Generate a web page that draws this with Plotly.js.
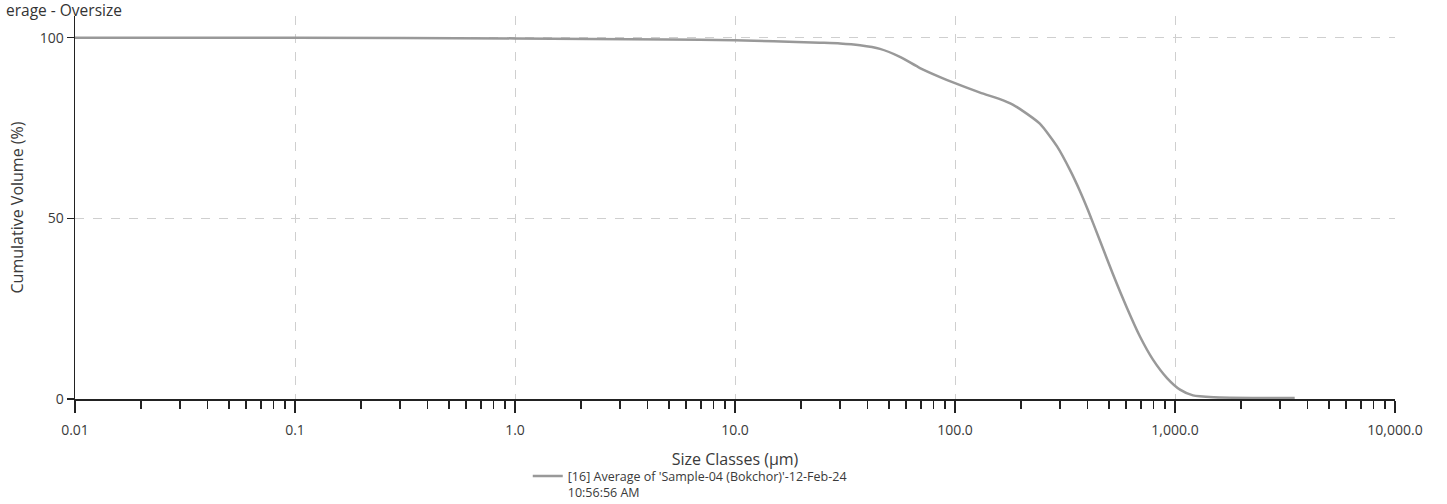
<!DOCTYPE html>
<html>
<head>
<meta charset="utf-8">
<script src="https://cdn.plot.ly/plotly-3.0.1.min.js"></script>
<style>html,body{margin:0;padding:0;background:#fff;}#chart{width:1447px;height:504px;}</style>
</head>
<body>
<div id="chart"></div>
<script>
// Size classes (µm) and cumulative volume (%)
var sizeClasses = [0.01, 0.1, 1, 5, 10, 15, 24.3, 30, 37, 45.6, 56.2, 69.3, 85.5, 100, 130, 160, 183, 197, 243, 291, 333, 370, 402, 456, 522, 605, 693, 794, 920, 1054, 1207, 1500, 2500, 3500];
var cumulativeVolume = [100, 100, 99.8, 99.5, 99.3, 99, 98.6, 98.4, 97.9, 96.9, 94.7, 91.6, 89.1, 87.4, 84.8, 83.0, 81.5, 80.3, 76.2, 69.9, 63.4, 57.5, 52.3, 43.8, 34.6, 25.2, 17.3, 10.9, 5.8, 2.6, 1.0, 0.5, 0.3, 0.3];
var seriesName = "[16] Average of 'Sample-04 (Bokchor)'-12-Feb-24<br>10:56:56 AM";
var xTickVals = [0.01, 0.1, 1, 10, 100, 1000, 10000];
var xTickText = ['0.01', '0.1', '1.0', '10.0', '100.0', '1,000.0', '10,000.0'];
var yTickVals = [0, 50, 100];
var chartTitle = 'erage - Oversize';
var xTitle = 'Size Classes (µm)';
var yTitle = 'Cumulative Volume (%)';

var minorVals = [];
for (var d = 0; d < xTickVals.length - 1; d++) {
  for (var k = 2; k <= 9; k++) minorVals.push(k * xTickVals[d]);
}

var trace = {
  x: sizeClasses,
  y: cumulativeVolume,
  type: 'scatter',
  mode: 'lines',
  name: seriesName,
  line: {color: '#999999', width: 2.5, shape: 'spline', smoothing: 0.6},
  showlegend: true
};

var fam = 'Open Sans, Noto Sans, sans-serif';
var txt = '#3a3a3a';

var layout = {
  width: 1447, height: 504,
  margin: {l: 75, r: 52, t: 16, b: 105, autoexpand: false},
  paper_bgcolor: '#ffffff', plot_bgcolor: '#ffffff',
  font: {family: fam, color: txt, size: 14},
  showlegend: true,
  legend: {
    x: 0.343, y: -0.163, xanchor: 'left', yanchor: 'top', valign: 'top',
    bgcolor: 'rgba(0,0,0,0)', font: {family: fam, size: 12.5, color: txt},
    itemwidth: 30, tracegroupgap: 0
  },
  xaxis: {
    type: 'log',
    range: [-2, 4],
    tickmode: 'array', tickvals: xTickVals, ticktext: xTickText,
    ticks: 'outside', ticklen: 12, tickwidth: 1.5, tickcolor: '#222',
    ticklabelstandoff: 5,
    showline: true, linecolor: '#222', linewidth: 2,
    showgrid: true, gridcolor: '#cfcfcf', griddash: 'dash', gridwidth: 1,
    zeroline: false,
    minor: {tickvals: minorVals, ticks: 'outside', ticklen: 8, tickwidth: 1.5, tickcolor: '#222', showgrid: false},
    tickfont: {family: fam, size: 14, color: txt},
    title: {text: xTitle, standoff: 16, font: {family: fam, size: 16, color: txt}}
  },
  yaxis: {
    range: [0, 106],
    tickmode: 'array', tickvals: yTickVals,
    ticks: 'outside', ticklen: 7, tickwidth: 1.5, tickcolor: '#222',
    showline: true, linecolor: '#222', linewidth: 1.5,
    showgrid: true, gridcolor: '#cfcfcf', griddash: 'dash', gridwidth: 1,
    zeroline: false,
    tickfont: {family: fam, size: 14, color: txt},
    title: {text: yTitle, standoff: 12, font: {family: fam, size: 16, color: txt}}
  },
  annotations: [{
    text: chartTitle, xref: 'paper', yref: 'paper',
    x: -71 / 1320, y: 1.016, xanchor: 'left', yanchor: 'middle',
    showarrow: false, font: {family: fam, size: 15.5, color: '#333'}
  }]
};

Plotly.newPlot('chart', [trace], layout, {displayModeBar: false, staticPlot: true});
</script>
</body>
</html>
